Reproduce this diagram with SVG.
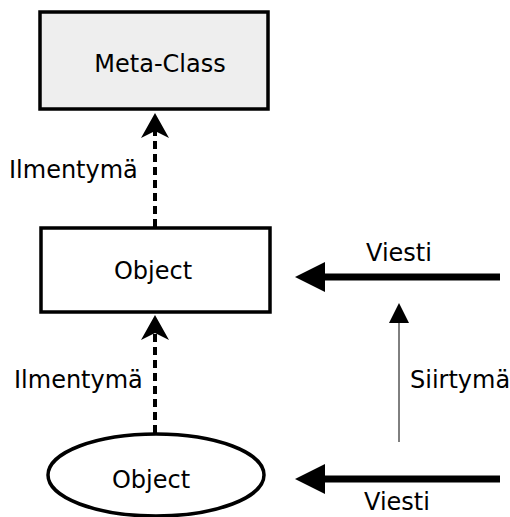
<svg xmlns="http://www.w3.org/2000/svg" width="510" height="517" viewBox="0 0 510 517">
<style>
text { font-family: "DejaVu Sans", "Liberation Sans", sans-serif; font-size: 24px; fill: #000; }
.box { stroke: #000; stroke-width: 3.5; }
.dash { stroke: #000; stroke-width: 4; stroke-dasharray: 8 5; fill: none; }
.thick { stroke: #000; stroke-width: 7; fill: none; }
.thin { stroke: #000; stroke-width: 1; fill: none; }
</style>
<defs>
<marker id="hDash" markerUnits="userSpaceOnUse" viewBox="-12 -16 30 32" markerWidth="30" markerHeight="32" refX="0" refY="0" orient="auto">
<path d="M15,0 L-10,-14 L-3,0 L-10,14 Z" fill="#000"/>
</marker>
<marker id="hThick" markerUnits="userSpaceOnUse" viewBox="-2 -16 34 32" markerWidth="34" markerHeight="32" refX="0" refY="0" orient="auto">
<path d="M30,0 L0,-15 L0,15 Z" fill="#000"/>
</marker>
<marker id="hThin" markerUnits="userSpaceOnUse" viewBox="-2 -11 24 22" markerWidth="24" markerHeight="22" refX="0" refY="0" orient="auto">
<path d="M20,0 L0,-10 L0,10 Z" fill="#000"/>
</marker>
</defs>
<g id="connectors">
<line class="dash" x1="155" y1="227" x2="155" y2="128" marker-end="url(#hDash)"/>
<line class="dash" x1="155" y1="433" x2="155" y2="330" marker-end="url(#hDash)"/>
<line class="thick" x1="500" y1="277" x2="325" y2="277" marker-end="url(#hThick)"/>
<line class="thick" x1="500" y1="479" x2="325" y2="479" marker-end="url(#hThick)"/>
<line class="thin" x1="399" y1="442" x2="399" y2="323" marker-end="url(#hThin)"/>
<text x="9" y="178">Ilmentymä</text>
<text x="14" y="388">Ilmentymä</text>
<text x="366" y="261">Viesti</text>
<text x="364" y="510">Viesti</text>
<text x="410" y="388">Siirtymä</text>
</g>
<g id="metaclass">
<rect class="box" x="40" y="12" width="228" height="97" fill="#eeeeee"/>
<text x="160" y="72" text-anchor="middle">Meta-Class</text>
</g>
<g id="object-class">
<rect class="box" x="41" y="228" width="229" height="84" fill="#ffffff"/>
<text x="153" y="279" text-anchor="middle">Object</text>
</g>
<g id="object-instance">
<ellipse class="box" cx="156" cy="475" rx="108" ry="41" fill="#ffffff"/>
<text x="151" y="488" text-anchor="middle">Object</text>
</g>
</svg>
